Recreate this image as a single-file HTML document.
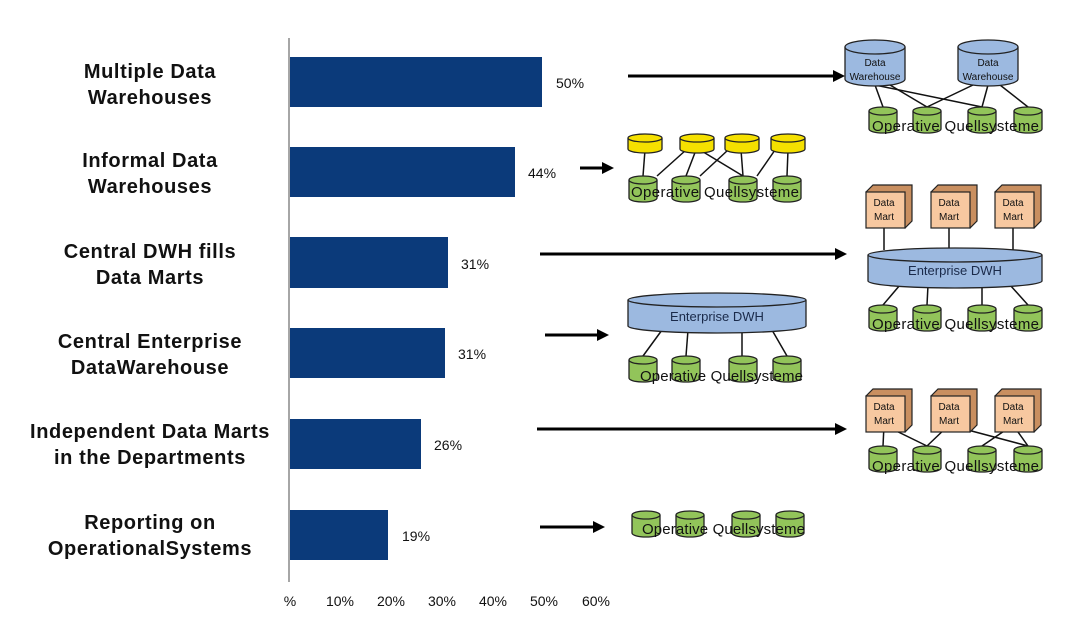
<!DOCTYPE html>
<html><head><meta charset="utf-8"><style>
body{margin:0;background:#fff;}
svg{display:block;font-family:"Liberation Sans",sans-serif;}
</style></head><body>
<svg id="s" width="1072" height="628" viewBox="0 0 1072 628">
<g id="shapes"></g>
<g font-weight="bold" font-size="20" letter-spacing="0.6" fill="#111" text-anchor="middle">
<text x="150" y="78">Multiple  Data</text><text x="150" y="104">Warehouses</text>
<text x="150" y="167">Informal  Data</text><text x="150" y="193">Warehouses</text>
<text x="150" y="258">Central DWH fills</text><text x="150" y="284">Data Marts</text>
<text x="150" y="348">Central Enterprise</text><text x="150" y="374">DataWarehouse</text>
<text x="150" y="438">Independent Data Marts</text><text x="150" y="464">in the Departments</text>
<text x="150" y="529">Reporting on</text><text x="150" y="555">OperationalSystems</text>
</g>
<g fill="#0b3a7a">
<rect x="290" y="57" width="252" height="50"/>
<rect x="290" y="147" width="225" height="50"/>
<rect x="290" y="237" width="158" height="51"/>
<rect x="290" y="328" width="155" height="50"/>
<rect x="290" y="419" width="131" height="50"/>
<rect x="290" y="510" width="98" height="50"/>
</g>
<line x1="289" y1="38" x2="289" y2="582" stroke="#888" stroke-width="1.5"/>
<g font-size="14" fill="#111">
<text x="556" y="88">50%</text><text x="528" y="178">44%</text><text x="461" y="269">31%</text>
<text x="458" y="359">31%</text><text x="434" y="450">26%</text><text x="402" y="541">19%</text>
</g>
<g font-size="14" fill="#111" text-anchor="middle">
<text x="290" y="606">%</text><text x="340" y="606">10%</text><text x="391" y="606">20%</text><text x="442" y="606">30%</text><text x="493" y="606">40%</text><text x="544" y="606">50%</text><text x="596" y="606">60%</text>
</g>
<g font-size="10" fill="#111" text-anchor="middle">
<text x="875" y="66">Data</text><text x="875" y="80">Warehouse</text>
<text x="988" y="66">Data</text><text x="988" y="80">Warehouse</text>
<text x="884" y="206">Data</text><text x="884" y="220">Mart</text>
<text x="949" y="206">Data</text><text x="949" y="220">Mart</text>
<text x="1013" y="206">Data</text><text x="1013" y="220">Mart</text>
<text x="884" y="410">Data</text><text x="884" y="424">Mart</text>
<text x="949" y="410">Data</text><text x="949" y="424">Mart</text>
<text x="1013" y="410">Data</text><text x="1013" y="424">Mart</text>
</g>
<g font-size="13" fill="#1a2a4a" text-anchor="middle">
<text x="955" y="275">Enterprise DWH</text>
<text x="717" y="321">Enterprise DWH</text>
</g>
<g font-size="15" fill="#111">
<text x="872" y="131" textLength="167">Operative  Quellsysteme</text>
<text x="631" y="197" textLength="168">Operative  Quellsysteme</text>
<text x="872" y="329" textLength="167">Operative  Quellsysteme</text>
<text x="640" y="381" textLength="163">Operative  Quellsysteme</text>
<text x="872" y="471" textLength="167">Operative  Quellsysteme</text>
<text x="642" y="534" textLength="163">Operative  Quellsysteme</text>
</g>
</svg>
<script>
var g=document.getElementById('shapes'),out='';
function ln(a,b,c,d){out+='<line x1="'+a+'" y1="'+b+'" x2="'+c+'" y2="'+d+'" stroke="#111" stroke-width="1.5"/>';}
function cyl(x,y,w,h,f,ry){ry=ry||4;var r=w/2;
out+='<path d="M'+x+','+(y+ry)+' v'+(h-2*ry)+' a'+r+','+ry+' 0 0 0 '+w+',0 v'+(-(h-2*ry))+'" fill="'+f+'" stroke="#222" stroke-width="1.3"/>';
out+='<ellipse cx="'+(x+r)+'" cy="'+(y+ry)+'" rx="'+r+'" ry="'+ry+'" fill="'+f+'" stroke="#222" stroke-width="1.3"/>';}
function box(x,y,w,h){var d=7;
out+='<path d="M'+x+','+(y+d)+' l'+d+','+(-d)+' h'+w+' v'+h+' l'+(-d)+','+d+' z" fill="#c98f60" stroke="#222" stroke-width="1.2"/>';
out+='<rect x="'+x+'" y="'+(y+d)+'" width="'+w+'" height="'+h+'" fill="#f7c8a0" stroke="#222" stroke-width="1.2"/>';}
function arrow(x1,x2,y){out+='<line x1="'+x1+'" y1="'+y+'" x2="'+(x2-10)+'" y2="'+y+'" stroke="#000" stroke-width="3"/><path d="M'+(x2-12)+','+(y-6)+' L'+x2+','+y+' L'+(x2-12)+','+(y+6)+'z" fill="#000"/>';}
var G='#92c45a',B='#9cb9e0',Y='#f5e000';
function greens(xs,y){xs.forEach(function(x){cyl(x,y,28,26,G,4);});}
arrow(628,845,76);arrow(580,614,168);arrow(540,847,254);arrow(545,609,335);arrow(537,847,429);arrow(540,605,527);
ln(875,85,883,107);ln(890,85,927,107);ln(875,85,982,107);ln(973,85,927,107);ln(988,85,982,107);ln(1000,85,1028,107);
cyl(845,40,60,46,B,7);cyl(958,40,60,46,B,7);greens([869,913,968,1014],107);
ln(645,150,643,176);ln(696,150,686,176);ln(741,150,743,176);ln(788,150,787,176);
ln(686,150,657,176);ln(700,150,743,176);ln(728,150,700,176);ln(775,150,757,176);
[628,680,725,771].forEach(function(x){cyl(x,134,34,19,Y,4);});greens([629,672,729,773],176);
ln(884,226,884,250);ln(949,226,949,250);ln(1013,226,1013,250);
ln(900,285,883,305);ln(928,285,927,305);ln(982,285,982,305);ln(1010,285,1028,305);
box(866,185,39,36);box(931,185,39,36);box(995,185,39,36);
cyl(868,248,174,40,B,7);greens([869,913,968,1014],305);
ln(662,330,643,356);ln(688,330,686,356);ln(742,330,742,356);ln(772,330,787,356);
cyl(628,293,178,40,B,7);greens([629,672,729,773],356);
ln(884,425,883,446);ln(884,425,927,446);ln(949,425,927,446);ln(949,425,1028,446);ln(1013,425,982,446);ln(1013,425,1028,446);
box(866,389,39,36);box(931,389,39,36);box(995,389,39,36);greens([869,913,968,1014],446);
greens([632,676,732,776],511);
g.innerHTML=out;
</script>
</body></html>
